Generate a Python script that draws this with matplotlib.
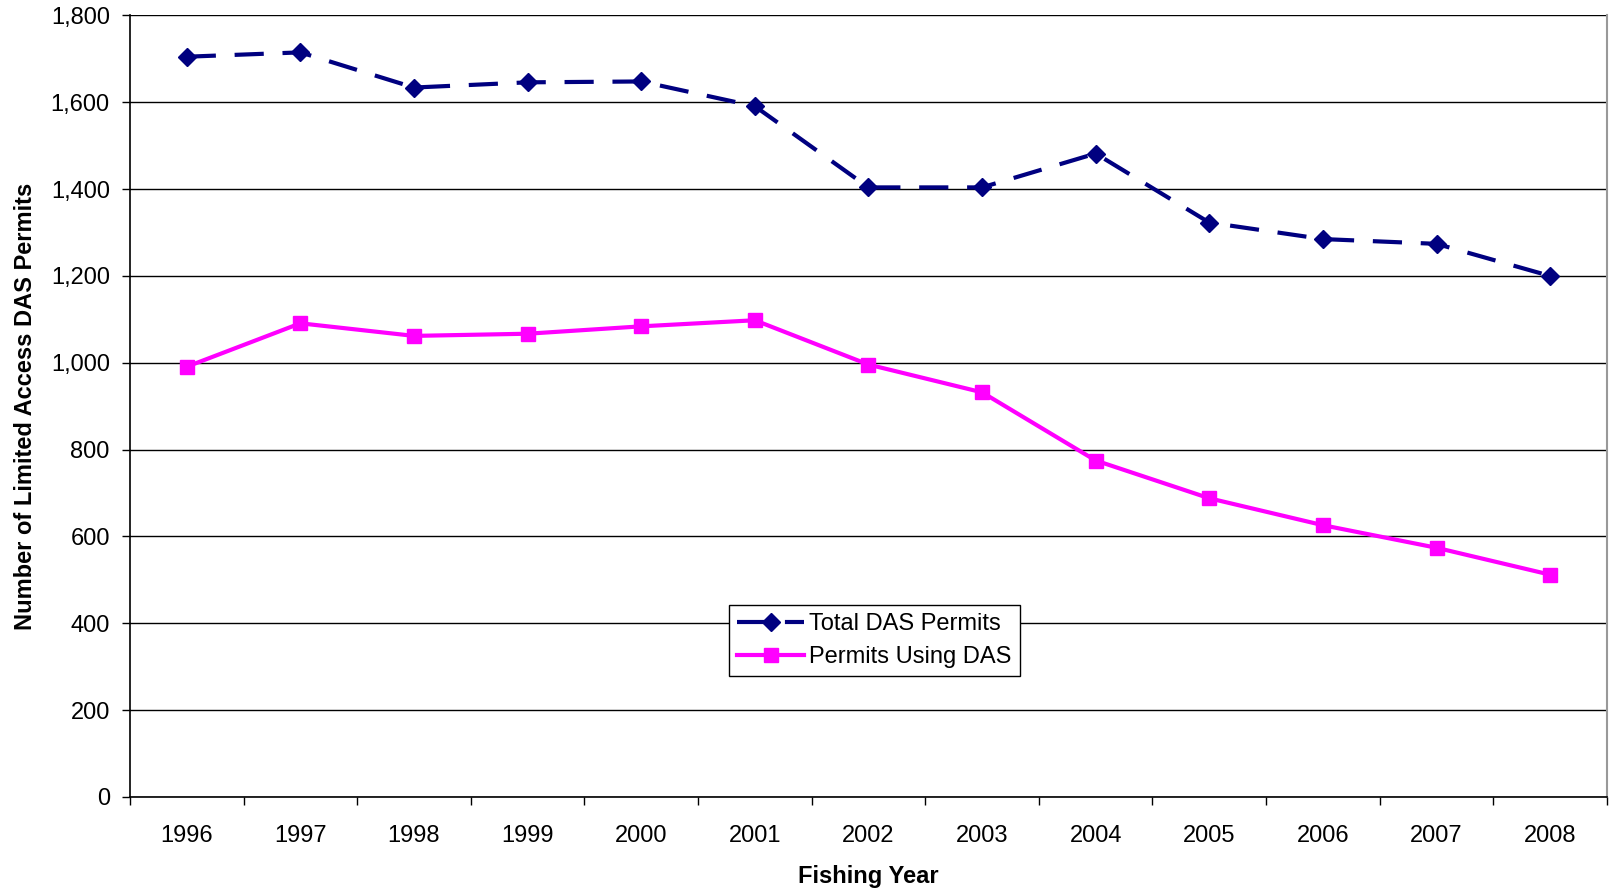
import matplotlib
matplotlib.use("Agg")
import matplotlib.pyplot as plt
from matplotlib.ticker import FuncFormatter, FixedLocator, NullFormatter
import numpy as np

plt.rcParams['font.family'] = ['Liberation Sans', 'DejaVu Sans']

years = ['1996', '1997', '1998', '1999', '2000', '2001', '2002',
         '2003', '2004', '2005', '2006', '2007', '2008']
total_das_permits = [1705, 1715, 1634, 1646, 1648, 1591, 1404,
                     1404, 1482, 1323, 1285, 1274, 1200]
permits_using_das = [991, 1091, 1062, 1067, 1084, 1098, 996,
                     932, 775, 688, 626, 574, 512]

fig = plt.figure(figsize=(16.16, 8.89), dpi=100)
ax = fig.add_axes([0.0804, 0.1035, 0.9140, 0.8791])

x = np.arange(len(years))
ax.plot(x, total_das_permits, color='#000080', lw=3.0, ls=(0, (7, 4.5)),
        marker='D', markersize=9, label='Total DAS Permits', zorder=3)
ax.plot(x, permits_using_das, color='#FF00FF', lw=3.0, ls='-',
        marker='s', markersize=10.5, label='Permits Using DAS', zorder=3)

ax.set_xlim(-0.5, len(years) - 0.5)
ax.set_ylim(0, 1800)
ax.set_yticks(np.arange(0, 1801, 200))
ax.yaxis.set_major_formatter(FuncFormatter(lambda v, p: f'{int(v):,}'))
ax.yaxis.grid(True, color='#000000', lw=1.0)
ax.set_axisbelow(True)

# category labels centred, tick marks on category boundaries
ax.set_xticks(x)
ax.set_xticklabels(years)
ax.tick_params(axis='x', which='major', length=0, pad=20, labelsize=17)
ax.xaxis.set_minor_locator(FixedLocator(np.arange(-0.5, len(years), 1.0)))
ax.xaxis.set_minor_formatter(NullFormatter())
ax.tick_params(axis='x', which='minor', length=6, width=1.0, direction='out', color='#000000')
ax.tick_params(axis='y', length=6, width=1.0, direction='out', labelsize=17, pad=8.5)

ax.spines['top'].set_visible(False)
ax.spines['right'].set_color('#999999')
ax.spines['right'].set_linewidth(1.5)
for side in ['left', 'bottom']:
    ax.spines[side].set_linewidth(1.2)
    ax.spines[side].set_color('#000000')

ax.set_xlabel('Fishing Year', fontsize=17, fontweight='bold', labelpad=13)
ax.set_ylabel('Number of Limited Access DAS Permits', fontsize=17, fontweight='bold', labelpad=10)

leg = ax.legend(loc='upper left', bbox_to_anchor=(0.4055, 0.2457), fontsize=17,
                frameon=True, fancybox=False, edgecolor='#000000', framealpha=1,
                handlelength=2.85, handletextpad=0.2, borderpad=0.35,
                labelspacing=0.45, borderaxespad=0)
leg.get_frame().set_linewidth(1.0)

fig.savefig('out.png', dpi=100)
